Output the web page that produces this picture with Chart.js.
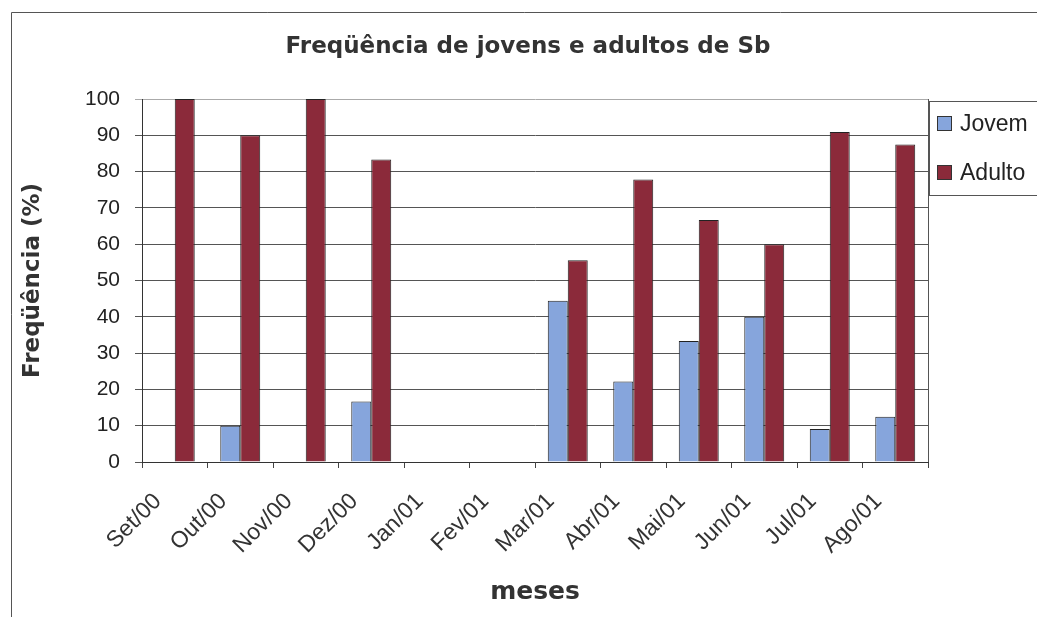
<!DOCTYPE html>
<html lang="pt">
<head>
<meta charset="UTF-8">
<title>Freqüência de jovens e adultos de Sb</title>
<script src="https://cdn.jsdelivr.net/npm/chart.js@4.4.0/dist/chart.umd.min.js"></script>
<style>
    html, body { margin: 0; padding: 0; background: #fff; }
    .wrap { position: relative; width: 1037px; height: 617px; overflow: hidden; }
    #legend {
        position: absolute; left: 929px; top: 101px; width: 130px; height: 95px;
        border: 1px solid #555; border-right: none; box-sizing: border-box;
        font-family: 'Liberation Sans', Arial, sans-serif; font-size: 23px; color: #222;
    }
    .item { position: absolute; left: 7px; height: 27px; display: flex; align-items: center; white-space: nowrap; }
    .sw { width: 13px; height: 13px; border: 1.5px solid #333; margin-right: 8px; }
</style>
</head>
<body>
<div class="wrap">
    <canvas id="chart" width="1037" height="617"></canvas>
    <div id="legend"></div>
</div>
<script>
    // dados (% por mês)
    const months = ['Set/00', 'Out/00', 'Nov/00', 'Dez/00', 'Jan/01', 'Fev/01', 'Mar/01', 'Abr/01', 'Mai/01', 'Jun/01', 'Jul/01', 'Ago/01'];
    const jovem  = [0, 10, 0, 16.7, null, null, 44.4, 22.2, 33.3, 40, 9.1, 12.5];
    const adulto = [100, 90, 100, 83.3, null, null, 55.6, 77.8, 66.7, 60, 90.9, 87.5];
    const yMin = 0, yMax = 100, yStep = 10;

    const ARIAL = "'Liberation Sans', Arial, sans-serif";
    const WIDE = "'DejaVu Sans', sans-serif";

    // moldura do gráfico e borda direita da área de plotagem
    const framePlugin = {
        id: 'frame',
        afterDraw(chart) {
            const { ctx, chartArea: a } = chart;
            const r = Math.round(a.right) + 0.5;
            ctx.save();
            ctx.strokeStyle = '#555';
            ctx.lineWidth = 1;
            ctx.beginPath();
            ctx.moveTo(11.5, 617); ctx.lineTo(11.5, 12.5); ctx.lineTo(1037, 12.5);
            ctx.moveTo(r, a.top); ctx.lineTo(r, a.bottom);
            ctx.stroke();
            ctx.restore();
        }
    };

    const chart = new Chart(document.getElementById('chart'), {
        type: 'bar',
        data: {
            labels: months,
            datasets: [
                { label: 'Jovem', data: jovem, backgroundColor: '#86a5dc', borderColor: '#222', borderWidth: 1 },
                { label: 'Adulto', data: adulto, backgroundColor: '#8b2a3a', borderColor: '#222', borderWidth: 1 }
            ]
        },
        options: {
            responsive: false,
            animation: false,
            layout: { padding: { left: 19, top: 0, right: 0, bottom: 10 } },
            datasets: { bar: { categoryPercentage: 0.61, barPercentage: 1 } },
            plugins: {
                legend: { display: false },
                tooltip: { enabled: false },
                title: {
                    display: true,
                    text: 'Freqüência de jovens e adultos de Sb',
                    font: { family: WIDE, size: 23, weight: 'bold' },
                    color: '#333',
                    padding: { top: 33, bottom: 38.4 }
                }
            },
            scales: {
                x: {
                    grid: { drawOnChartArea: false, drawTicks: true, tickLength: 6, color: '#444', offset: true },
                    border: { color: '#333' },
                    ticks: {
                        minRotation: 45, maxRotation: 45, autoSkip: false,
                        labelOffset: -17, padding: 20,
                        font: { family: ARIAL, size: 23 }, color: '#333'
                    },
                    title: {
                        display: true, text: 'meses',
                        font: { family: WIDE, size: 25, weight: 'bold' }, color: '#333',
                        padding: { top: 0, bottom: 0 }
                    },
                    afterFit: s => { s.height = 145; }
                },
                y: {
                    min: yMin, max: yMax,
                    ticks: { stepSize: yStep, padding: 15, font: { family: ARIAL, size: 21 }, color: '#222' },
                    grid: { color: c => (c.tick && c.tick.value === yMax ? '#aaa' : '#555'), tickLength: 7 },
                    border: { color: '#333' },
                    title: {
                        display: true, text: 'Freqüência (%)',
                        font: { family: WIDE, size: 23, weight: 'bold' }, color: '#333',
                        padding: { top: 0, bottom: 0 }
                    },
                    afterFit: s => { s.width = 123; }
                },
                // espaço reservado para a legenda à direita
                legendSpace: {
                    type: 'linear', position: 'right', min: 0, max: 1,
                    ticks: { display: false }, grid: { display: false }, border: { display: false },
                    afterFit: s => { s.width = 109; }
                }
            }
        },
        plugins: [framePlugin]
    });

    // legenda em HTML, gerada a partir dos datasets
    const legend = document.getElementById('legend');
    chart.data.datasets.forEach((ds, i) => {
        const item = document.createElement('div');
        item.className = 'item';
        item.style.top = (8 + i * 49) + 'px';
        item.innerHTML = '<span class="sw" style="background:' + ds.backgroundColor + '"></span>' + ds.label;
        legend.appendChild(item);
    });
</script>
</body>
</html>
